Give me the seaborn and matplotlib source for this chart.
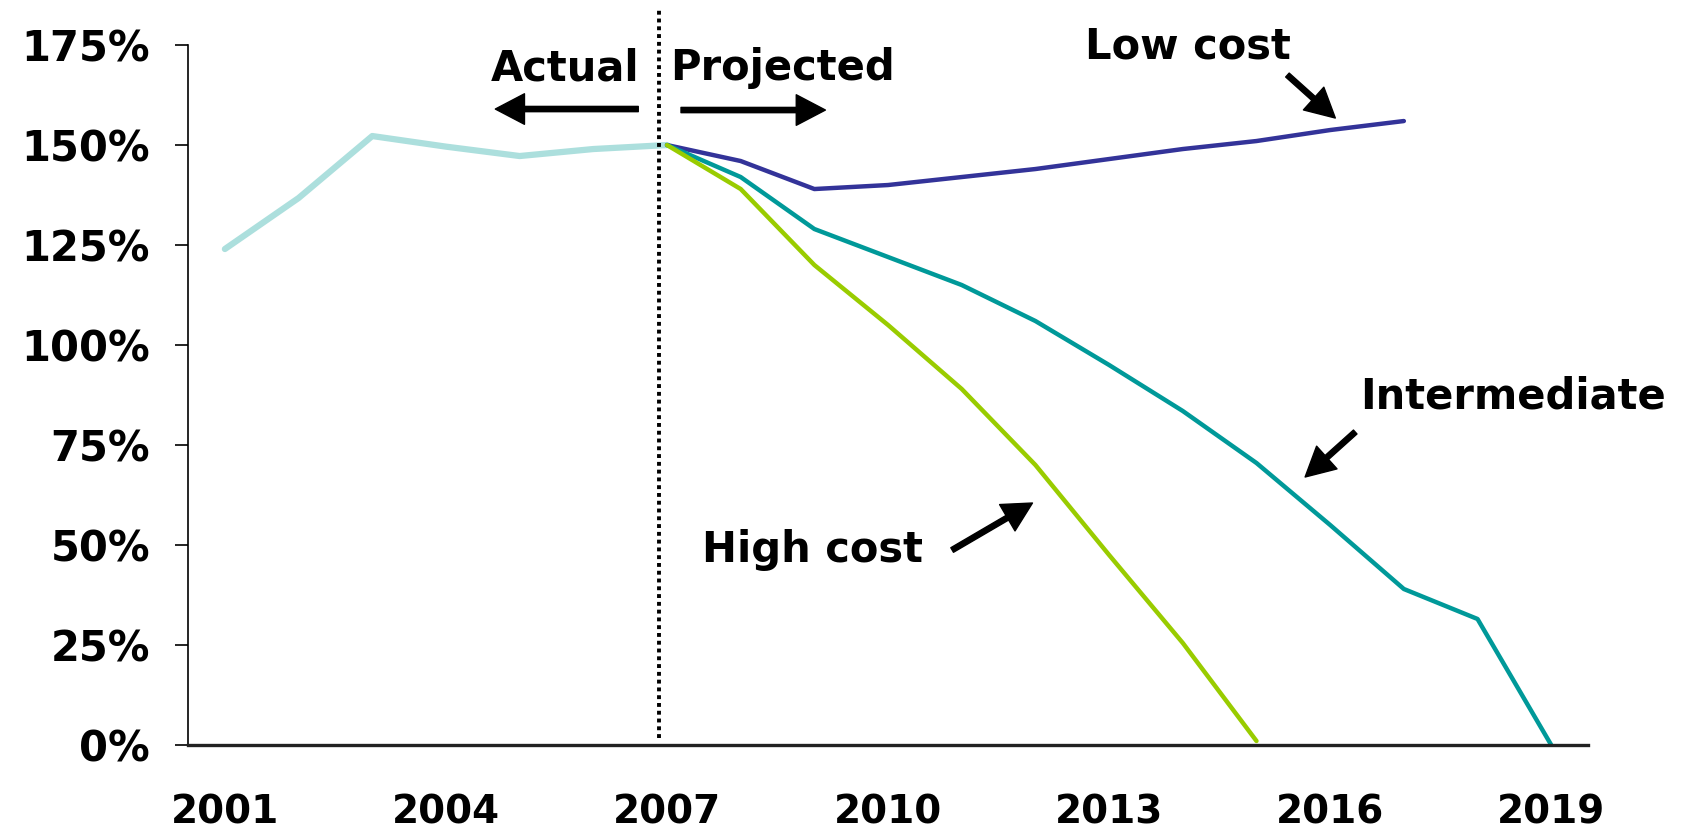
import numpy as np
import pandas as pd
import seaborn as sns
import matplotlib.pyplot as plt

# Data (percent)
years_actual = [2001, 2002, 2003, 2004, 2005, 2006, 2007]
actual = [124, 136.75, 152.25, 149.6, 147.25, 149, 150]

years_low = [2007, 2008, 2009, 2010, 2011, 2012, 2013, 2014, 2015, 2016, 2017]
low_cost = [150, 146, 139, 140, 142, 144, 146.5, 149, 151, 153.75, 156]

years_mid = [2007, 2008, 2009, 2010, 2011, 2012, 2013, 2014, 2015, 2016, 2017, 2018, 2019]
intermediate = [150, 142, 129, 122, 115, 106, 95, 83.5, 70.5, 55, 39, 31.5, 0]

years_high = [2007, 2008, 2009, 2010, 2011, 2012, 2013, 2014, 2015]
high_cost = [150, 139, 120, 105, 89, 70, 47.5, 25.5, 1]

year_ticks = [2001, 2004, 2007, 2010, 2013, 2016, 2019]
pct_ticks = [0, 25, 50, 75, 100, 125, 150, 175]

sns.set_style('white')
plt.rcParams['font.family'] = ['DejaVu Sans']
plt.rcParams['font.weight'] = 'bold'
plt.rcParams['text.color'] = 'black'
plt.rcParams['xtick.color'] = 'black'
plt.rcParams['ytick.color'] = 'black'

fig = plt.figure(figsize=(16.88, 8.31), dpi=100)
ax = fig.add_axes([0.1114, 0.1035, 0.8294, 0.8423])

# Series
sns.lineplot(x=years_actual, y=actual, color='#acdfdd', linewidth=4.5, ax=ax)
sns.lineplot(x=years_low, y=low_cost, color='#333399', linewidth=3.2, ax=ax)
sns.lineplot(x=years_mid, y=intermediate, color='#009999', linewidth=3.2, ax=ax)
sns.lineplot(x=years_high, y=high_cost, color='#99cc00', linewidth=3.2, ax=ax)

# Axes setup
ax.set_xlim(2000.5, 2019.5)
ax.set_ylim(0, 175)
ax.set_xticks(year_ticks)
ax.set_xticklabels([str(y) for y in year_ticks], fontsize=28, fontweight='bold')
ax.set_yticks(pct_ticks)
ax.set_yticklabels([f'{p}%' for p in pct_ticks], fontsize=30, fontweight='bold')
ax.tick_params(axis='x', length=0, pad=35, labelcolor='black')
ax.tick_params(axis='y', direction='out', length=9.4, width=1.2, pad=18,
               color='black', labelcolor='black', left=True)

for s in ['top', 'right']:
    ax.spines[s].set_visible(False)
ax.spines['left'].set_color('black')
ax.spines['left'].set_linewidth(1.2)
ax.spines['bottom'].set_color('#222222')
ax.spines['bottom'].set_linewidth(2.4)

# Dotted separator between actual and projected
ax.plot([2006.89, 2006.89], [1.75, 184.5], color='black', linestyle=(0, (1, 1)),
        linewidth=2.8, clip_on=False)

# Text labels and arrows
arrow = dict(facecolor='black', edgecolor='black', width=3.8, headwidth=22, headlength=21, shrink=0)
txt = dict(fontsize=30, fontweight='bold', color='black', va='baseline')

ax.text(2006.62, 166.25, 'Actual', ha='right', **txt)
ax.annotate('', xy=(2004.67, 159), xytext=(2006.61, 159), arrowprops=arrow, annotation_clip=False)
ax.text(2007.04, 166.25, 'Projected', ha='left', **txt)
ax.annotate('', xy=(2009.15, 158.75), xytext=(2007.19, 158.75), arrowprops=arrow, annotation_clip=False)

ax.text(2012.67, 171.75, 'Low cost', ha='left', **txt)
ax.annotate('', xy=(2016.07, 156.75), xytext=(2015.42, 167.5), arrowprops=arrow, annotation_clip=False)

ax.text(2016.41, 84.25, 'Intermediate', ha='left', **txt)
ax.annotate('', xy=(2015.66, 67), xytext=(2016.34, 78.25), arrowprops=arrow, annotation_clip=False)

ax.text(2007.48, 45.75, 'High cost', ha='left', **txt)
ax.annotate('', xy=(2011.96, 60.5), xytext=(2010.87, 48.75), arrowprops=arrow, annotation_clip=False)

fig.savefig('out.png', dpi=100)
